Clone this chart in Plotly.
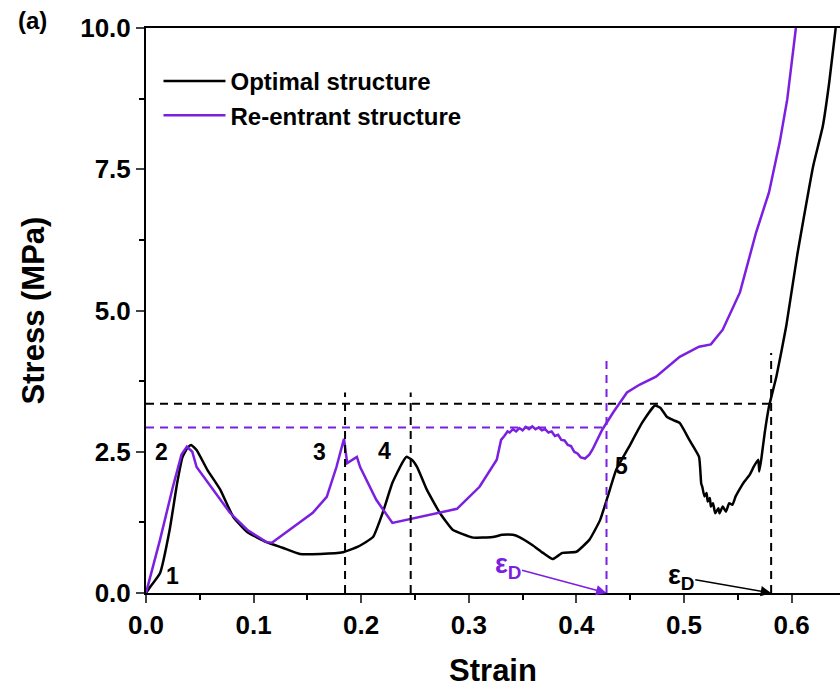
import plotly.graph_objects as go

# Optimal structure (black)
opt_strain = [0, 0.004, 0.013, 0.022, 0.029, 0.034, 0.039, 0.042, 0.047, 0.057, 0.069, 0.081, 0.094,
              0.112, 0.127, 0.143, 0.162, 0.183, 0.197, 0.211, 0.220, 0.229, 0.238, 0.242,
              0.247, 0.252, 0.261, 0.273, 0.285, 0.304, 0.322, 0.331, 0.341, 0.347, 0.359,
              0.369, 0.378, 0.387, 0.400, 0.412, 0.422, 0.429, 0.437, 0.449, 0.461, 0.473,
              0.478, 0.484, 0.490, 0.496, 0.505, 0.514, 0.516, 0.517, 0.519, 0.521, 0.522,
              0.524, 0.525, 0.527, 0.529, 0.532, 0.533, 0.536, 0.539, 0.542, 0.545, 0.548,
              0.553, 0.556, 0.561, 0.565, 0.569, 0.570, 0.572, 0.575, 0.579, 0.586, 0.595,
              0.605, 0.620, 0.629, 0.635, 0.641]
opt_stress = [0, 0.11, 0.35, 1.12, 1.95, 2.41, 2.58, 2.62, 2.53, 2.18, 1.83, 1.35, 1.08,
              0.90, 0.80, 0.69, 0.69, 0.72, 0.82, 0.99, 1.42, 1.95, 2.30, 2.41,
              2.36, 2.23, 1.83, 1.42, 1.12, 0.98, 0.99, 1.03, 1.03, 0.99, 0.85,
              0.71, 0.60, 0.71, 0.73, 0.94, 1.29, 1.70, 2.18, 2.59, 3.01, 3.32,
              3.28, 3.12, 3.06, 3.01, 2.71, 2.41, 1.94, 1.88, 1.71, 1.77, 1.62,
              1.68, 1.53, 1.59, 1.41, 1.50, 1.41, 1.53, 1.44, 1.59, 1.56, 1.71,
              1.88, 1.97, 2.09, 2.24, 2.36, 2.15, 2.39, 2.83, 3.30, 3.84, 4.72,
              5.95, 7.55, 8.26, 9.04, 10.0]

# Re-entrant structure (purple)
re_strain = [0, 0.013, 0.025, 0.033, 0.038, 0.043, 0.047, 0.050, 0.062, 0.078, 0.094, 0.112,
             0.117, 0.134, 0.155, 0.168, 0.177, 0.184, 0.187, 0.196, 0.199, 0.214, 0.229,
             0.289, 0.310, 0.326, 0.330, 0.333, 0.336, 0.338, 0.341, 0.344, 0.347, 0.350,
             0.353, 0.356, 0.359, 0.362, 0.365, 0.368, 0.371, 0.374, 0.377, 0.380, 0.383,
             0.386, 0.389, 0.392, 0.395, 0.398, 0.401, 0.404, 0.408, 0.412, 0.415, 0.424,
             0.434, 0.447, 0.459, 0.474, 0.496, 0.514, 0.525, 0.536, 0.552, 0.567, 0.579,
             0.589, 0.596, 0.604]
re_stress = [0, 0.94, 1.88, 2.45, 2.59, 2.50, 2.23, 2.15, 1.83, 1.42, 1.12, 0.90,
             0.89, 1.12, 1.42, 1.70, 2.23, 2.73, 2.30, 2.41, 2.23, 1.65, 1.24,
             1.49, 1.88, 2.36, 2.71, 2.78, 2.86, 2.84, 2.90, 2.86, 2.92, 2.88,
             2.94, 2.90, 2.95, 2.90, 2.93, 2.88, 2.90, 2.84, 2.86, 2.78, 2.80,
             2.71, 2.70, 2.62, 2.60, 2.50, 2.47, 2.40, 2.38, 2.45, 2.54, 2.89,
             3.19, 3.55, 3.69, 3.83, 4.18, 4.36, 4.40, 4.66, 5.32, 6.38, 7.09,
             7.98, 8.74, 10.0]

# Reference lines
opt_plateau = 3.35
re_plateau = 2.93
opt_densification = 0.581
re_densification = 0.428
opt_vlines = [0.185, 0.246]
peak_labels = ["1", "2", "3", "4", "5"]
peak_label_pos = [(0.025, 0.30), (0.014, 2.50), (0.161, 2.50), (0.222, 2.52), (0.442, 2.25)]

BLACK = "#000000"
PURPLE = "#7B1FE0"
FONT = "Liberation Sans, Arial, sans-serif"

fig = go.Figure()
fig.add_trace(go.Scatter(x=opt_strain, y=opt_stress, mode="lines", name="Optimal structure",
                         line=dict(color=BLACK, width=2.5, shape="spline", smoothing=0.4),
                         legendgroup="a"))
fig.add_trace(go.Scatter(x=re_strain, y=re_stress, mode="lines", name="Re-entrant structure",
                         line=dict(color=PURPLE, width=2.5), legendgroup="b"))

dash = "8px,6px"
shapes = []
shapes.append(dict(type="line", x0=0, x1=opt_densification, y0=opt_plateau, y1=opt_plateau,
                   line=dict(color=BLACK, width=2, dash=dash)))
shapes.append(dict(type="line", x0=0, x1=re_densification, y0=re_plateau, y1=re_plateau,
                   line=dict(color=PURPLE, width=2, dash=dash)))
for xv in opt_vlines:
    shapes.append(dict(type="line", x0=xv, x1=xv, y0=0, y1=3.55,
                       line=dict(color=BLACK, width=2, dash=dash)))
shapes.append(dict(type="line", x0=opt_densification, x1=opt_densification, y0=0, y1=4.25,
                   line=dict(color=BLACK, width=2, dash=dash)))
shapes.append(dict(type="line", x0=re_densification, x1=re_densification, y0=0, y1=4.2,
                   line=dict(color=PURPLE, width=2, dash=dash)))
fig.update_layout(shapes=shapes)

annotations = []
for lab, (xx, yy) in zip(peak_labels, peak_label_pos):
    annotations.append(dict(x=xx, y=yy, text=lab, showarrow=False, xref="x", yref="y",
                            font=dict(family=FONT, size=23, color=BLACK, weight="bold")))
# epsilon D labels with arrows pointing to the densification strains
annotations.append(dict(x=re_densification, y=0, ax=0.336, ay=0.47, xref="x", yref="y",
                        axref="x", ayref="y", text="ε<sub>D</sub>", showarrow=True, arrowhead=2,
                        arrowsize=1.3, arrowwidth=1.6, arrowcolor=PURPLE, standoff=0,
                        font=dict(family=FONT, size=27, color=PURPLE, weight="bold")))
annotations.append(dict(x=opt_densification, y=0, ax=0.497, ay=0.28, xref="x", yref="y",
                        axref="x", ayref="y", text="ε<sub>D</sub>", showarrow=True, arrowhead=2,
                        arrowsize=1.3, arrowwidth=1.6, arrowcolor=BLACK, standoff=0,
                        font=dict(family=FONT, size=27, color=BLACK, weight="bold")))
annotations.append(dict(x=0.0, y=1.0, xref="paper", yref="paper", xanchor="left", yanchor="middle",
                        text="(a)", showarrow=False, xshift=-130, yshift=8,
                        font=dict(family=FONT, size=24, color=BLACK, weight="bold")))
fig.update_layout(annotations=annotations)

tickfont = dict(family=FONT, size=26, color=BLACK, weight="bold")
titlefont = dict(family=FONT, size=31, color=BLACK, weight="bold")
fig.update_xaxes(range=[0, 0.645], dtick=0.1, tickformat=".1f", ticks="outside", ticklen=8,
                 tickwidth=2, showline=True, linecolor=BLACK, linewidth=2, mirror=True,
                 showgrid=False, zeroline=False, tickfont=tickfont,
                 minor=dict(dtick=0.05, ticks="outside", ticklen=5, tickwidth=2, tickcolor=BLACK),
                 title=dict(text="Strain", font=titlefont, standoff=20))
fig.update_yaxes(range=[0, 10], dtick=2.5, tickformat=".1f", ticks="outside", ticklen=8,
                 tickwidth=2, showline=True, linecolor=BLACK, linewidth=2, mirror=False,
                 showgrid=False, zeroline=False, tickfont=tickfont,
                 minor=dict(dtick=1.25, ticks="outside", ticklen=5, tickwidth=2, tickcolor=BLACK),
                 title=dict(text="Stress (MPa)", font=titlefont, standoff=26))

legfont = dict(family=FONT, size=24, color=BLACK, weight="bold")
fig.update_layout(
    width=840, height=694,
    margin=dict(l=146, r=0, t=28, b=101),
    plot_bgcolor="white", paper_bgcolor="white",
    legend=dict(x=0.018, y=(593 - 59) / 565, xanchor="left", yanchor="top",
                font=legfont, bgcolor="rgba(0,0,0,0)", itemwidth=62,
                traceorder="grouped", tracegroupgap=0),
)

fig.write_html("out.html")
